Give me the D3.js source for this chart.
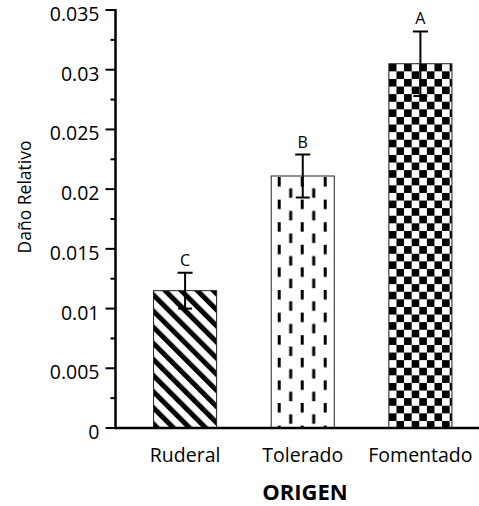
<!DOCTYPE html>
<html>
<head>
<meta charset="utf-8">
<script src="https://cdn.jsdelivr.net/npm/d3@7"></script>
<style>
  html, body { margin: 0; padding: 0; background: #fff; }
  svg { display: block; }
  text { font-family: "Open Sans", "Noto Sans", sans-serif; fill: #000; }
</style>
</head>
<body>
<svg id="chart" width="479" height="506"></svg>
<script>
// ---- data ----
const categories = ["Ruderal", "Tolerado", "Fomentado"];
const means = [0.0115, 0.0211, 0.0305];
const errors = [0.0015, 0.0018, 0.0027];
const letters = ["C", "B", "A"];
const tickValues = [0, 0.005, 0.01, 0.015, 0.02, 0.025, 0.03, 0.035];
const tickLabels = ["0", "0.005", "0.01", "0.015", "0.02", "0.025", "0.03", "0.035"];
const minorTicks = [0.0025, 0.0075, 0.0125, 0.0175, 0.0225, 0.0275, 0.0325];
const yTitle = "Daño Relativo";
const xTitle = "ORIGEN";

const W = 479, H = 506;
const x0 = 115.5, yBottom = 428, yTop = 10;
const svg = d3.select("#chart");

const y = d3.scaleLinear().domain([0, 0.035]).range([yBottom, yTop]);
const x = d3.scaleBand().domain(categories).range([x0, 490])
  .paddingInner(0.464).paddingOuter(0.3235);

// ---- patterns ----
const defs = svg.append("defs");
const bw = x.bandwidth();

// diagonal stripes (Ruderal)
const pS = defs.append("pattern").attr("id", "pStripe")
  .attr("patternUnits", "userSpaceOnUse")
  .attr("width", 11.4).attr("height", 11.4)
  .attr("patternTransform", "rotate(-45)");
pS.append("rect").attr("width", 11.4).attr("height", 11.4).attr("fill", "#fff");
pS.append("rect").attr("x", 0).attr("width", 5).attr("height", 11.4).attr("fill", "#000");

// staggered vertical dashes (Tolerado)
const bx1 = x(categories[1]), by1 = y(means[1]);
const pD = defs.append("pattern").attr("id", "pDash")
  .attr("patternUnits", "userSpaceOnUse")
  .attr("x", bx1 + 6.5).attr("y", by1 + 1)
  .attr("width", 23).attr("height", 22.6);
pD.append("rect").attr("width", 23).attr("height", 22.6).attr("fill", "#fff");
pD.append("rect").attr("x", 0).attr("y", 0).attr("width", 3).attr("height", 9.5).attr("fill", "#000");
pD.append("rect").attr("x", 11.5).attr("y", 11.3).attr("width", 3).attr("height", 9.5).attr("fill", "#000");

// checkerboard (Fomentado)
const bx2 = x(categories[2]), by2 = y(means[2]);
const cs = 7.6;
const pC = defs.append("pattern").attr("id", "pCheck")
  .attr("patternUnits", "userSpaceOnUse")
  .attr("x", bx2).attr("y", by2)
  .attr("width", cs * 2).attr("height", cs * 2);
pC.append("rect").attr("width", cs * 2).attr("height", cs * 2).attr("fill", "#fff");
pC.append("rect").attr("x", 0).attr("y", 0).attr("width", cs).attr("height", cs).attr("fill", "#000");
pC.append("rect").attr("x", cs).attr("y", cs).attr("width", cs).attr("height", cs).attr("fill", "#000");

const fills = ["url(#pStripe)", "url(#pDash)", "url(#pCheck)"];

// ---- bars ----
svg.append("g").selectAll("rect").data(categories).join("rect")
  .attr("x", d => x(d))
  .attr("y", (d, i) => y(means[i]))
  .attr("width", bw)
  .attr("height", (d, i) => y(0) - y(means[i]))
  .attr("fill", (d, i) => fills[i])
  .attr("stroke", "#222").attr("stroke-width", 1);

// ---- error bars ----
const eg = svg.append("g").attr("stroke", "#000").attr("stroke-width", 2);
categories.forEach((c, i) => {
  const cx = x(c) + bw / 2;
  const yt = y(means[i] + errors[i]), yb = y(means[i] - errors[i]);
  eg.append("line").attr("x1", cx).attr("x2", cx).attr("y1", yt).attr("y2", yb);
  eg.append("line").attr("x1", cx - 7.5).attr("x2", cx + 7.5).attr("y1", yt).attr("y2", yt);
  eg.append("line").attr("x1", cx - 7).attr("x2", cx + 7).attr("y1", yb).attr("y2", yb);
  svg.append("text").attr("x", cx).attr("y", yt - 7)
    .attr("text-anchor", "middle").attr("font-size", 16).text(letters[i]);
});

// ---- axes ----
const ax = svg.append("g").attr("stroke", "#000");
ax.append("line").attr("x1", x0).attr("x2", x0).attr("y1", y(0.035) - 1).attr("y2", yBottom + 1.2)
  .attr("stroke-width", 2.5);
ax.append("line").attr("x1", x0).attr("x2", W).attr("y1", yBottom).attr("y2", yBottom)
  .attr("stroke-width", 2.5);
ax.selectAll(".maj").data(tickValues).join("line")
  .attr("x1", x0 - 10).attr("x2", x0).attr("y1", d => y(d)).attr("y2", d => y(d))
  .attr("stroke-width", 2);
ax.selectAll(".min").data(minorTicks).join("line")
  .attr("x1", x0 - 5).attr("x2", x0).attr("y1", d => y(d)).attr("y2", d => y(d))
  .attr("stroke-width", 2);

svg.append("g").selectAll("text").data(tickValues).join("text")
  .attr("x", x0 - 16).attr("y", d => y(d) + 4).attr("dy", "0.36em")
  .attr("text-anchor", "end").attr("font-size", 19.5)
  .text((d, i) => tickLabels[i]);

svg.append("g").selectAll("text").data(categories).join("text")
  .attr("x", d => x(d) + bw / 2).attr("y", 462)
  .attr("text-anchor", "middle").attr("font-size", 19.5).text(d => d);

svg.append("text").attr("x", 305).attr("y", 500)
  .attr("text-anchor", "middle").attr("font-size", 22).attr("font-weight", "bold")
  .text(xTitle);

svg.append("text").attr("transform", "translate(31,197) rotate(-90)")
  .attr("text-anchor", "middle").attr("font-size", 17.5).text(yTitle);
</script>
</body>
</html>
